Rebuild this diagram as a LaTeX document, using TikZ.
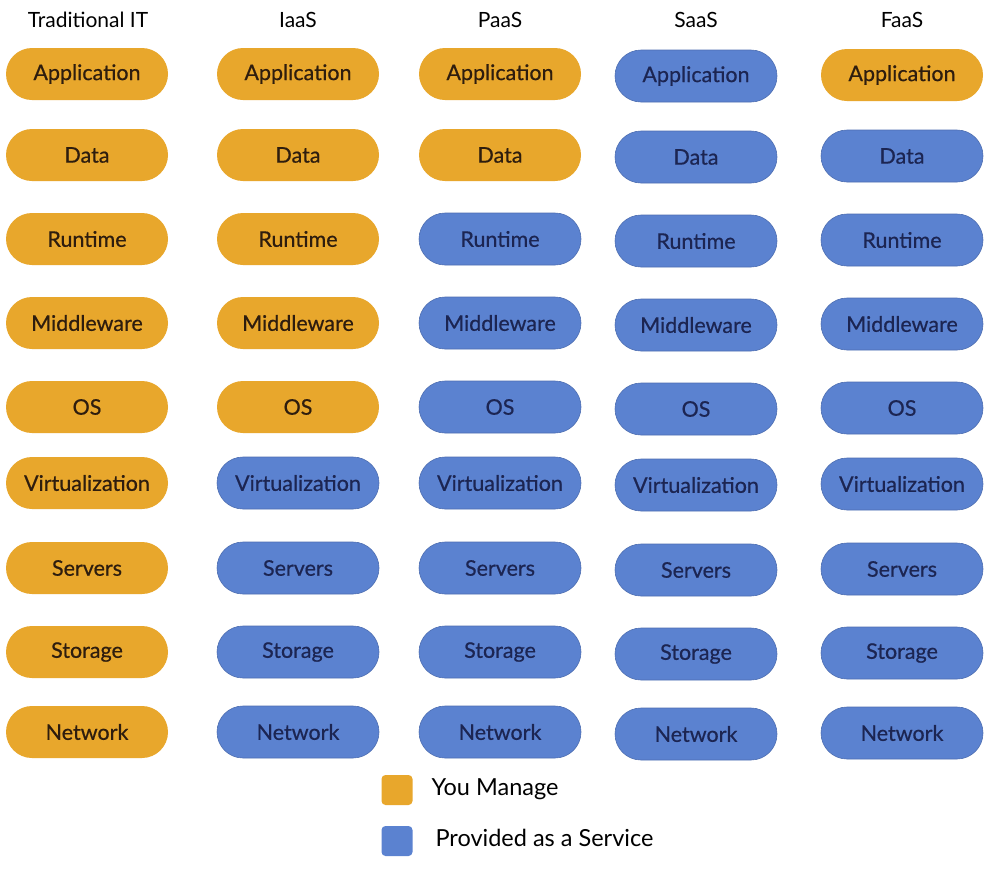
\documentclass[tikz,border=0pt]{standalone}
\usepackage{fontspec}
\setmainfont{Lato}
\newfontfamily\pillfont{Lato}[FakeBold=0.6]
\definecolor{mgd}{HTML}{E8A72C}
\definecolor{svc}{HTML}{5B82D0}
\definecolor{mgdtxt}{HTML}{2E1D0E}
\definecolor{svctxt}{HTML}{1C2552}
\usetikzlibrary{shapes.misc}
\tikzset{
  pill/.style={rounded rectangle, minimum width=162pt, minimum height=52pt, inner sep=0pt, font=\pillfont\fontsize{21.5}{24}\selectfont},
  mine/.style={pill, fill=mgd, text=mgdtxt},
  serv/.style={pill, fill=svc, text=svctxt, draw=svc!85!black, line width=0.6pt},
  head/.style={font=\fontsize{21}{24}\selectfont, text=black},
  legsq/.style={rounded corners=4pt, minimum width=31pt, minimum height=30pt, inner sep=0pt},
  legtxt/.style={anchor=west, font=\fontsize{23.5}{26}\selectfont, text=black}
}
\begin{document}
\begin{tikzpicture}[x=1pt,y=-1pt]
\useasboundingbox (0,0) rectangle (1000,868);
\fill[white] (0,0) rectangle (1000,868);
% headers
\node[head] (h1) at (88,20) {Traditional IT};
\node[head] (h2) at (298,20) {IaaS};
\node[head] (h3) at (500,20) {PaaS};
\node[head] (h4) at (696,20) {SaaS};
\node[head] (h5) at (902,20) {FaaS};
% columns
\foreach \col/\x/\dy/\n in {1/87/0/9, 2/298/0/5, 3/500/0/2, 4/696/2/0, 5/902/1/1}{
  \foreach \row/\y/\lab in {1/74/Application, 2/155/Data, 3/239/Runtime, 4/323/Middleware, 5/407/OS, 6/483/Virtualization, 7/568/Servers, 8/652/Storage, 9/732/Network}{
    \ifnum\row>\n
      \node[serv] (c\col r\row) at (\x,\y+\dy) {\lab};
    \else
      \node[mine] (c\col r\row) at (\x,\y+\dy) {\lab};
    \fi
  }
}
% legend
\node[legsq, fill=mgd] (lm) at (397,790) {};
\node[legtxt] (lmt) at (428,789) {You Manage};
\node[legsq, fill=svc] (ls) at (397,841) {};
\node[legtxt] (lst) at (432,838) {Provided as a Service};
\end{tikzpicture}
\end{document}
